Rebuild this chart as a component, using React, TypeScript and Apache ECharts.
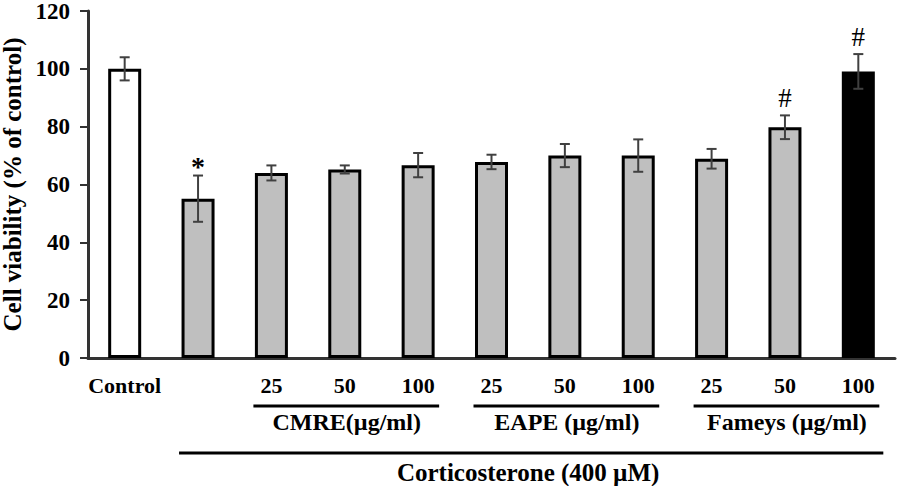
import React, { useEffect, useRef } from "react";
import * as echarts from "echarts";

const categories = ["Control", "", "25", "50", "100", "25", "50", "100", "25", "50", "100"];
const viability = [100, 55.1, 64.0, 65.2, 66.7, 67.8, 70.0, 70.0, 68.9, 79.8, 99.1];
const errors = [4.0, 8.0, 2.6, 1.4, 4.2, 2.5, 4.0, 5.6, 3.4, 4.1, 6.0];
const marks = ["", "*", "", "", "", "", "", "", "", "#", "#"];
const fillKinds = ["white", "gray", "gray", "gray", "gray", "gray", "gray", "gray", "gray", "gray", "black"];
const groups = [
  { label: "CMRE(µg/ml)", from: 2, to: 4 },
  { label: "EAPE (µg/ml)", from: 5, to: 7 },
  { label: "Fameys (µg/ml)", from: 8, to: 10 },
];
const treatment = { label: "Corticosterone (400 µM)", from: 1, to: 10 };

const FONT = "'Liberation Serif', 'Times New Roman', serif";
const fills: Record<string, string> = { white: "#ffffff", gray: "#bfbfbf", black: "#000000" };

export default function App() {
  const ref = useRef<HTMLDivElement>(null);
  useEffect(() => {
    if (!ref.current) return;
    const chart = echarts.init(ref.current, undefined, { renderer: "svg" });
    const option: any = {
      animation: false,
      backgroundColor: "#ffffff",
      grid: { left: 88, right: 2, top: 11, bottom: 128, containLabel: false, outerBoundsMode: "none" },
      xAxis: {
        type: "category",
        data: categories,
        axisLine: { lineStyle: { color: "#333", width: 3 } },
        axisTick: { alignWithLabel: true, length: 5, lineStyle: { color: "#333", width: 2 } },
        axisLabel: {
          interval: 0,
          margin: 16,
          color: "#000",
          fontFamily: FONT,
          fontWeight: "bold",
          fontSize: 22,
        },
      },
      yAxis: {
        type: "value",
        min: 0,
        max: 120,
        interval: 20,
        name: "Cell viability (% of control)",
        nameLocation: "middle",
        nameGap: 52,
        nameTextStyle: { fontFamily: FONT, fontWeight: "bold", fontSize: 25, lineHeight: 24, color: "#000" },
        splitLine: { show: false },
        axisLine: { show: true, lineStyle: { color: "#333", width: 3 } },
        axisTick: { show: true, length: 8, lineStyle: { color: "#333", width: 2 } },
        axisLabel: {
          margin: 18,
          color: "#000",
          fontFamily: FONT,
          fontWeight: "bold",
          fontSize: 23,
          lineHeight: 18,
        },
      },
      series: [
        {
          type: "bar",
          barWidth: 33,
          data: viability.map((v, i) => ({
            value: v,
            itemStyle: { color: fills[fillKinds[i]], borderColor: "#000", borderWidth: 3 },
          })),
        },
        {
          type: "custom",
          data: viability.map((v, i) => [i, v - errors[i], v + errors[i], marks[i]]),
          encode: { x: 0, y: [1, 2] },
          z: 10,
          renderItem: (params: any, api: any) => {
            const idx = api.value(0);
            const lo = api.coord([idx, api.value(1)]);
            const hi = api.coord([idx, api.value(2)]);
            const mark = marks[idx];
            const cap = 5;
            const style = { stroke: "#404040", lineWidth: 2 };
            const children: any[] = [
              { type: "line", shape: { x1: hi[0], y1: hi[1], x2: lo[0], y2: lo[1] }, style },
              { type: "line", shape: { x1: hi[0] - cap, y1: hi[1], x2: hi[0] + cap, y2: hi[1] }, style },
              { type: "line", shape: { x1: lo[0] - cap, y1: lo[1], x2: lo[0] + cap, y2: lo[1] }, style },
            ];
            if (mark) {
              const dy = mark === "*" ? 9 : 0;
              children.push({
                type: "text",
                x: hi[0],
                y: hi[1] - 4 + dy,
                style: {
                  text: mark,
                  fill: "#000",
                  font: mark === "*" ? `bold 28px ${FONT}` : `27px ${FONT}`,
                  textAlign: "center",
                  textVerticalAlign: "bottom",
                },
              });
            }
            return { type: "group", children };
          },
        },
      ],
    };
    chart.setOption(option);

    const px = (i: number) => chart.convertToPixel({ xAxisIndex: 0 }, i) as number;
    const y0 = chart.convertToPixel({ yAxisIndex: 0 }, 0) as number;
    const lineStyle = { stroke: "#000", lineWidth: 3 };
    const textStyle = (t: string, x: number, y: number, size: number) => ({
      type: "text",
      x,
      y,
      style: {
        text: t,
        fill: "#000",
        font: `bold ${size}px ${FONT}`,
        textAlign: "center",
        textVerticalAlign: "middle",
      },
    });
    const elements: any[] = [];
    groups.forEach((g) => {
      const a = px(g.from);
      const b = px(g.to);
      elements.push({ type: "line", shape: { x1: a - 18, y1: y0 + 48, x2: b + 21, y2: y0 + 48 }, style: lineStyle });
      elements.push(textStyle(g.label, (a + b) / 2 + 2, y0 + 64, 24));
    });
    {
      const a = px(treatment.from);
      const b = px(treatment.to);
      elements.push({ type: "line", shape: { x1: a - 19, y1: y0 + 95, x2: b + 25, y2: y0 + 95 }, style: lineStyle });
      elements.push(textStyle(treatment.label, (a + b) / 2, y0 + 114, 25));
    }
    chart.setOption({ graphic: elements });

    return () => chart.dispose();
  }, []);
  return (
    <div
      ref={ref}
      style={{ position: "absolute", left: 0, top: 0, width: 897, height: 486, background: "#fff" }}
    />
  );
}
